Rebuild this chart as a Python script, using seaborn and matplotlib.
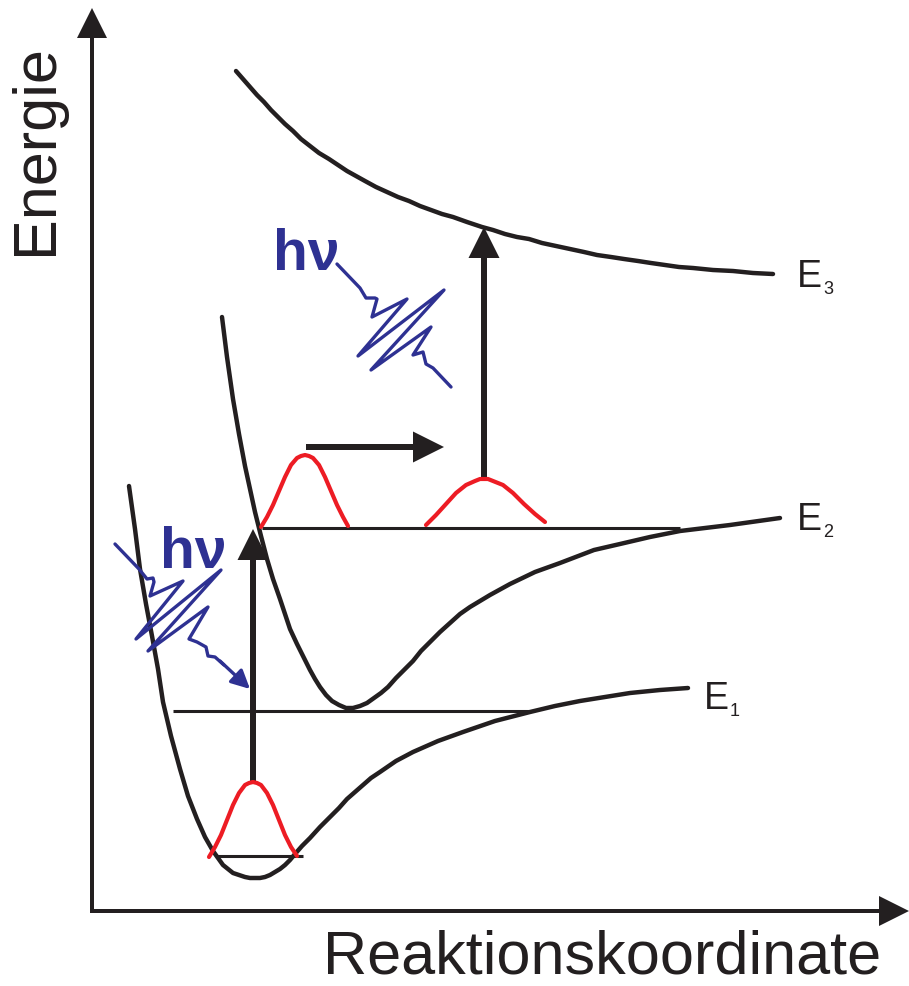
"""
potential energy curves E1, E2, E3 with two photon excitations
(schematic, coordinates read in picture units, y grows downward)
"""

import numpy as np
import pandas as pd
import seaborn as sns
import matplotlib.pyplot as plt

sns.set_theme(style='white')
plt.rcParams['font.family'] = ['Liberation Sans', 'DejaVu Sans']

BLACK = '#231F20'
RED = '#ED1C24'
BLUE = '#2E3192'

# potential curves
e1_x = [129, 135, 140, 146, 152, 158, 163, 171, 180, 188, 197, 205, 213, 218, 223, 228, 233,
        239, 245, 250, 255, 260, 265, 270, 275, 280, 285, 290, 295, 302, 310, 320, 330, 339,
        347, 355, 363, 371, 380, 396, 413, 438, 463, 495, 530, 555, 580, 605, 630, 660, 688]
e1_y = [487, 530, 570, 605, 637, 670, 703, 737, 770, 797, 820, 838, 852, 859, 866, 870, 874,
        876, 878, 879, 879, 879, 878, 876, 873, 870, 866, 861, 855, 847, 839, 828, 818, 809,
        800, 793, 786, 779, 773, 762, 753, 742, 733, 722, 713, 707, 702, 698, 694, 691, 689]

e2_x = [222, 227, 233, 239, 245, 250, 255, 261, 267, 273, 280, 285, 290, 297, 305, 310, 315,
        320, 326, 332, 339, 346, 353, 360, 367, 374, 381, 388, 396, 404, 413, 421, 430, 440,
        450, 460, 470, 490, 510, 535, 560, 594, 620, 650, 680, 730, 780]
e2_y = [318, 358, 400, 435, 467, 490, 513, 537, 560, 580, 600, 615, 630, 645, 661, 671, 680,
        688, 696, 702, 706, 709, 709, 707, 704, 699, 694, 688, 679, 671, 662, 652, 643, 633,
        624, 615, 608, 596, 585, 573, 564, 551, 545, 538, 532, 526, 519]

e3_x = [236, 243, 250, 257, 264, 271, 278, 285, 293, 301, 310, 319, 329, 338, 347, 356, 365,
        376, 387, 398, 409, 420, 431, 442, 453, 467, 482, 493, 505, 517, 529, 542, 556, 570,
        584, 597, 611, 624, 638, 651, 665, 679, 693, 713, 733, 753, 773]
e3_y = [72, 80, 88, 96, 103, 111, 118, 125, 132, 140, 147, 154, 160, 166, 172, 177, 182,
        188, 193, 198, 202, 207, 211, 215, 218, 223, 228, 231, 235, 238, 240, 244, 247, 250,
        253, 256, 258, 260, 262, 264, 266, 268, 269, 271, 272, 274, 275]

# vibrational levels (x start, x end, y)
levels = [(216, 303, 857), (173, 529, 712), (262, 680, 529)]

# wave packets
wp1_x = [209, 215, 221, 227, 233, 239, 245, 249, 253, 257, 261, 267, 273, 279, 285, 291, 297]
wp1_y = [858, 848, 836, 821, 806, 794, 786, 784, 783, 784, 786, 794, 806, 821, 836, 848, 857]
wp2_x = [261, 267, 273, 279, 285, 291, 297, 301, 305, 309, 313, 319, 325, 331, 337, 343, 348]
wp2_y = [528, 518, 506, 492, 478, 466, 459, 457, 456, 457, 459, 466, 478, 492, 506, 518, 527]
wp3_x = [426, 436, 446, 456, 466, 475, 480, 484, 488, 493, 503, 513, 524, 535, 545]
wp3_y = [526, 516, 505, 494, 486, 482, 480, 480, 480, 482, 486, 494, 505, 515, 523]

# photons
ph1_x = [337, 360, 366, 375, 377, 372, 407, 358, 444, 371, 431, 413, 423, 426, 433, 451]
ph1_y = [265, 289, 299, 299, 300, 318, 300, 357, 291, 371, 328, 356, 353, 365, 369, 388]
ph2_x = [115, 139, 147, 153, 154, 150, 183, 136, 221, 148, 208, 189, 197, 206, 208, 215, 224]
ph2_y = [545, 570, 580, 579, 583, 597, 582, 640, 571, 652, 608, 640, 643, 648, 657, 658, 666]

# arrows (x0, y0, x1, y1)
vertical_arrows = [(253, 783, 253, 530), (484, 480, 484, 228)]
shift_arrow = (306, 448, 444, 448)
axis_arrows = [(92, 914, 92, 9), (90, 912, 909, 912)]

fig = plt.figure(figsize=(9.09, 9.87), dpi=100)
ax = fig.add_axes([0, 0, 1, 1])

for xs, ys in [(e1_x, e1_y), (e2_x, e2_y), (e3_x, e3_y)]:
    sns.lineplot(x=xs, y=ys, sort=False, estimator=None, color=BLACK, lw=3.2, ax=ax,
                 solid_joinstyle='round')

for x0, x1, y in levels:
    ax.plot([x0, x1], [y, y], color=BLACK, lw=2.2, solid_capstyle='butt')

for xs, ys in [(wp1_x, wp1_y), (wp2_x, wp2_y), (wp3_x, wp3_y)]:
    sns.lineplot(x=xs, y=ys, sort=False, estimator=None, color=RED, lw=3.0, ax=ax,
                 solid_joinstyle='round')

for xs, ys in [(ph1_x, ph1_y), (ph2_x, ph2_y)]:
    sns.lineplot(x=xs, y=ys, sort=False, estimator=None, color=BLUE, lw=2.4, ax=ax,
                 solid_joinstyle='round')
ax.annotate('', xy=(250, 690), xytext=(220, 662),
            arrowprops=dict(arrowstyle='-|>', color=BLUE, lw=2.4, mutation_scale=28,
                            shrinkA=0, shrinkB=0))

for x0, y0, x1, y1 in vertical_arrows + [shift_arrow]:
    ax.arrow(x0, y0, x1 - x0, y1 - y0, width=6, head_width=31, head_length=31,
             length_includes_head=True, color=BLACK, lw=0)

for x0, y0, x1, y1 in axis_arrows:
    ax.arrow(x0, y0, x1 - x0, y1 - y0, width=4, head_width=30, head_length=30,
             length_includes_head=True, color=BLACK, lw=0)

# labels
ax.text(37, 150, 'Energie', rotation=90, ha='center', va='center', fontsize=44, color=BLACK)
ax.text(602, 986, 'Reaktionskoordinate', ha='center', va='bottom', fontsize=44, color=BLACK)

for name, sub, x, y in [('E', '3', 797, 287), ('E', '2', 797, 530), ('E', '1', 704, 709)]:
    ax.text(x, y, name, ha='left', va='baseline', fontsize=27, color=BLACK)
    ax.text(x + 26, y + 7, sub, ha='left', va='baseline', fontsize=13, color=BLACK)

ax.text(273, 270, 'hν', ha='left', va='baseline', fontsize=41, fontweight='bold', color=BLUE)
ax.text(160, 568, 'hν', ha='left', va='baseline', fontsize=41, fontweight='bold', color=BLUE)

ax.set_xlim(0, 909)
ax.set_ylim(987, 0)
ax.axis('off')

fig.savefig('out.png', dpi=100)
